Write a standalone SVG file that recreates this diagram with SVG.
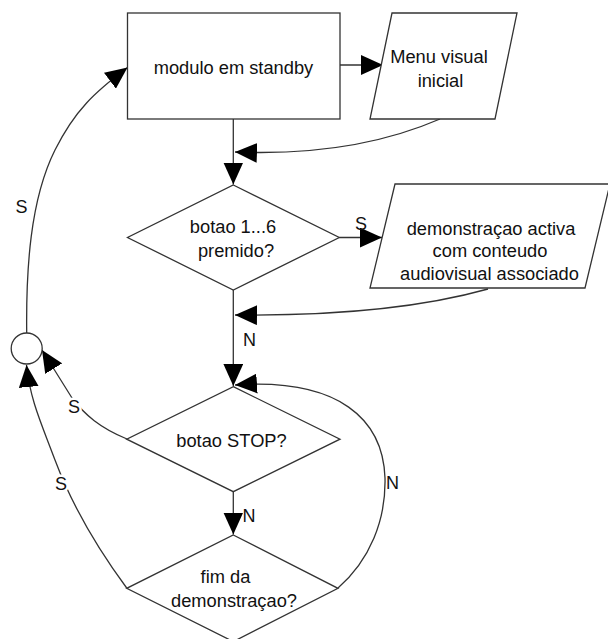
<svg xmlns="http://www.w3.org/2000/svg" width="608" height="639" viewBox="0 0 608 639">
<style>
.shape{fill:#fff;stroke:#333;stroke-width:1.3}
.conn{fill:none;stroke:#333;stroke-width:1.3}
.arr{marker-end:url(#ah)}
text{font-family:"Liberation Sans",Arial,sans-serif;font-size:18.3px;fill:#111;text-anchor:middle}
.lbl{font-size:18px}
.halo{stroke:#fff;stroke-width:5;paint-order:stroke;stroke-linejoin:round}
</style>
<defs>
<marker id="ah" markerUnits="userSpaceOnUse" markerWidth="22" markerHeight="20" viewBox="0 0 20 18" refX="20" refY="9" orient="auto">
<path d="M0,0 L20,9 L0,18 z" fill="#000"/>
</marker>
</defs>
<rect width="608" height="639" fill="#fff"/>
<g id="connectors">
<path class="conn arr" d="M340,65 L383,65"/>
<path class="conn arr" d="M233.3,119 L233.3,184.5"/>
<path class="conn arr" d="M440,119 C380,145 310,155 235,152"/>
<path class="conn arr" d="M339.3,237.5 L382,237.5"/>
<path class="conn arr" d="M488,289 C420,308 340,316 235,315"/>
<path class="conn arr" d="M233.3,290 L233.3,386"/>
<path class="conn arr" d="M233.3,491.7 L233.3,534.5"/>
<path class="conn arr" d="M338,588 C370,560 386,520 385,478 C383,420 340,378 235,385"/>
<path class="conn arr" d="M127,439 C100,428 85,415 72,398 L42,350"/>
<path class="conn arr" d="M126.7,588 C95,545 70,500 55,460 C42,425 30,400 26.5,365"/>
<path class="conn arr" d="M26.7,333 C26,270 30,200 55,150 C75,110 95,92 127.5,67.5"/>
<text class="lbl" x="21.5" y="213.3">S</text>
<text class="lbl" x="361" y="230">S</text>
<text class="lbl" x="249.5" y="346">N</text>
<text class="lbl halo" x="74" y="412.5">S</text>
<text class="lbl halo" x="61" y="490">S</text>
<text class="lbl" x="392.5" y="489">N</text>
<text class="lbl" x="249" y="522">N</text>
</g>
<g id="node-standby">
<rect class="shape" x="127.5" y="13" width="212.5" height="106"/>
<text x="233.5" y="74.3">modulo em standby</text>
</g>
<g id="node-menu">
<polygon class="shape" points="392,13 517,13 495,119 370,119"/>
<text x="439" y="63.3">Menu visual</text>
<text x="440.5" y="86.7">inicial</text>
</g>
<g id="node-botao16">
<polygon class="shape" points="233.3,185 339.3,237.5 233.3,290 127.5,237.5"/>
<text x="233" y="233.3">botao 1...6</text>
<text x="236" y="256.7">premido?</text>
</g>
<g id="node-demo">
<polygon class="shape" points="395,184 610,184 585,288 370,288"/>
<text x="491" y="235">demonstraçao activa</text>
<text x="490" y="257.3">com conteudo</text>
<text x="489.5" y="280">audiovisual associado</text>
</g>
<g id="node-circle">
<circle class="shape" cx="26.7" cy="348.5" r="15.5"/>
</g>
<g id="node-stop">
<polygon class="shape" points="233.3,386.7 340,439.2 233.3,491.7 126.7,439.2"/>
<text x="231.5" y="446.7">botao STOP?</text>
</g>
<g id="node-fim">
<polygon class="shape" points="233.3,535 338,588.3 233.3,641.6 126.7,588.3"/>
<text x="225.5" y="583.3">fim da</text>
<text x="234" y="607.3">demonstraçao?</text>
</g>
</svg>
